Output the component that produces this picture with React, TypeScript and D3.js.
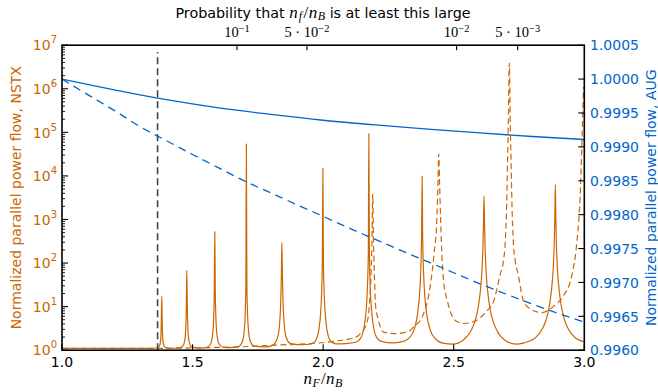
import React from 'react';
import * as d3 from 'd3';

const ORANGE = '#cc6600';
const BLUE = '#0066cc';

const xTickValues = [1.0, 1.5, 2.0, 2.5, 3.0];
const leftDecades = [0, 1, 2, 3, 4, 5, 6, 7];
const rightTickValues = [0.996, 0.9965, 0.997, 0.9975, 0.998, 0.9985, 0.999, 0.9995, 1.0, 1.0005];
const topTickPos = [1.670, 1.938, 2.511, 2.745];
const topTickMantissa = ['', '5', '', '5'];
const topTickExp = ['\u22121', '\u22122', '\u22122', '\u22123'];
const thresholdX = 1.366;
const thresholdSpan = [1, 7e6];

const augSolidX = [1.0, 1.2, 1.4, 1.6, 1.8, 2.0, 2.2, 2.4, 2.6, 2.8, 3.0];
const augSolid = [1.0, 0.999841, 0.999696, 0.999575, 0.999479, 0.999393, 0.999323, 0.999261, 0.999205, 0.999153, 0.999109];
const augDashX = [1.0, 1.1, 1.2, 1.3, 1.4, 1.5, 1.6, 1.7, 1.8, 1.9, 2.0, 2.1, 2.2, 2.3, 2.4, 2.5, 2.6, 2.7, 2.8, 2.9, 3.0];
const augDashed = [1.0, 0.999767, 0.999538, 0.999295, 0.999091, 0.998888, 0.99869, 0.998494, 0.99832, 0.998146, 0.997975, 0.997801, 0.997634, 0.997468, 0.997306, 0.997143, 0.99698, 0.996829, 0.996681, 0.996543, 0.996414];

const nstxSolid: [number, number][] = [
  [1.000, 1.10], [1.300, 1.10], [1.352, 1.11], [1.367, 1.15], [1.374, 1.28], [1.378, 1.8], [1.380, 3.6], [1.382, 17.5], [1.384, 3.6], [1.386, 1.8], [1.390, 1.28], [1.397, 1.15], [1.412, 1.12], [1.430, 1.11],
  [1.448, 1.13], [1.463, 1.25], [1.470, 1.65], [1.474, 3.3], [1.476, 9.2], [1.478, 68], [1.480, 9.2], [1.482, 3.3], [1.486, 1.65], [1.493, 1.25], [1.508, 1.14], [1.531, 1.12],
  [1.555, 1.17], [1.570, 1.45], [1.577, 2.35], [1.581, 6.2], [1.583, 21], [1.585, 520], [1.587, 21], [1.589, 6.2], [1.593, 2.35], [1.600, 1.45], [1.615, 1.18], [1.645, 1.14],
  [1.676, 1.21], [1.691, 1.6], [1.698, 2.9], [1.702, 8.5], [1.704, 31], [1.706, 54000], [1.708, 31], [1.710, 8.5], [1.714, 2.9], [1.721, 1.6], [1.736, 1.24], [1.774, 1.19],
  [1.792, 1.21], [1.812, 1.37], [1.827, 2.12], [1.834, 4.7], [1.838, 15.2], [1.840, 51], [1.842, 300], [1.844, 51], [1.846, 15.2], [1.850, 4.7], [1.857, 2.12], [1.872, 1.45], [1.892, 1.36], [1.920, 1.34],
  [1.949, 1.37], [1.969, 1.6], [1.984, 3.1], [1.991, 8.2], [1.995, 30], [1.997, 116], [1.999, 15000], [2.001, 116], [2.003, 30], [2.007, 8.2], [2.014, 3.1], [2.029, 1.6], [2.049, 1.4], [2.087, 1.42],
  [2.125, 1.52], [2.145, 1.95], [2.160, 4.5], [2.167, 13], [2.171, 49], [2.173, 194], [2.175, 93000], [2.177, 194], [2.179, 49], [2.183, 13], [2.190, 4.5], [2.205, 1.95], [2.225, 1.58], [2.268, 1.48],
  [2.299, 1.55], [2.329, 1.9], [2.349, 3.05], [2.364, 9], [2.371, 28.5], [2.375, 111], [2.377, 427], [2.379, 9800], [2.381, 427], [2.383, 111], [2.387, 28.5], [2.394, 9], [2.409, 3.05], [2.429, 1.85], [2.459, 1.45], [2.497, 1.38],
  [2.536, 1.7], [2.566, 2.8], [2.586, 5.8], [2.601, 20], [2.608, 66], [2.612, 249], [2.614, 822], [2.616, 3450], [2.618, 822], [2.620, 249], [2.624, 66], [2.631, 20], [2.646, 5.8], [2.666, 2.8], [2.696, 1.7], [2.740, 1.38],
  [2.769, 1.47], [2.809, 1.85], [2.839, 3.05], [2.859, 6.5], [2.874, 22.8], [2.881, 76], [2.885, 295], [2.887, 1034], [2.889, 6300], [2.891, 1034], [2.893, 295], [2.897, 76], [2.904, 22.8], [2.919, 6.5], [2.939, 3.05], [2.969, 1.85], [3.000, 1.55],
];

const nstxDashed: [number, number][] = [
  [1.000, 1.10], [1.364, 1.10], [1.529, 1.14], [1.689, 1.2], [1.835, 1.32], [1.950, 1.42], [2.027, 1.55], [2.084, 1.75], [2.129, 2.05], [2.149, 2.7], [2.167, 4.1], [2.177, 11],
  [2.1835, 60], [2.187, 400], [2.1898, 3850], [2.1925, 400], [2.196, 60], [2.2005, 11], [2.212, 4.8], [2.231, 2.6], [2.282, 2.4], [2.333, 2.85], [2.346, 3.4], [2.378, 5.6],
  [2.409, 27], [2.417, 60], [2.4245, 160], [2.435, 930], [2.440, 8000], [2.4425, 32000], [2.4455, 8000], [2.450, 930], [2.4545, 160], [2.461, 40], [2.476, 13.4], [2.506, 4.8],
  [2.538, 4.1], [2.571, 4.4], [2.602, 5.6], [2.627, 8], [2.653, 13.4], [2.678, 55], [2.690, 110], [2.6975, 320], [2.7025, 2000], [2.706, 2e4], [2.709, 1.5e5], [2.7128, 3.9e6],
  [2.7166, 1.5e5], [2.7197, 2e4], [2.7232, 2000], [2.7281, 320], [2.7358, 110], [2.747, 55], [2.767, 13.4], [2.797, 8.6], [2.838, 7.3], [2.862, 8.2], [2.889, 11], [2.921, 18],
  [2.953, 55], [2.972, 324], [2.985, 4600], [2.992, 1e5], [2.997, 1.1e6],
];

const L = 62, R = 584.3, T = 45.2, B = 350.2;

export default function App() {
  const x = d3.scaleLinear().domain([1, 3]).range([L, R]);
  const yL = d3.scaleLog().domain([1, 1e7]).range([B, T]);
  const yR = d3.scaleLinear().domain([0.996, 1.0005]).range([B, T]);
  const lineL = d3.line<[number, number]>().x(d => x(d[0])).y(d => yL(d[1])).curve(d3.curveMonotoneX);
  const lineR = d3.line<[number, number]>().x(d => x(d[0])).y(d => yR(d[1])).curve(d3.curveMonotoneX);
  const augSolidPts = augSolidX.map((v, i) => [v, augSolid[i]] as [number, number]);
  const augDashPts = augDashX.map((v, i) => [v, augDashed[i]] as [number, number]);

  const minor: number[] = [];
  leftDecades.slice(0, -1).forEach(d => {
    for (let k = 2; k <= 9; k++) minor.push(k * Math.pow(10, d));
  });

  const sans = 'DejaVu Sans, sans-serif';
  const serif = 'Liberation Serif, DejaVu Serif, serif';

  return (
    <svg width={658} height={392} style={{ position: 'absolute', left: 0, top: 0, background: '#fff' }}>
      <defs>
        <clipPath id="plotclip">
          <rect x={L} y={T} width={R - L} height={B - T} />
        </clipPath>
      </defs>
      <rect x={0} y={0} width={658} height={392} fill="#fff" />
      <g clipPath="url(#plotclip)" fill="none">
        <path d={lineL(nstxSolid) || ''} stroke={ORANGE} strokeWidth={1.2} />
        <path d={lineL(nstxDashed) || ''} stroke={ORANGE} strokeWidth={1.2} strokeDasharray="6,3.5" />
        <line x1={x(thresholdX)} x2={x(thresholdX)} y1={yL(thresholdSpan[0])} y2={yL(thresholdSpan[1])}
          stroke="#444" strokeWidth={1.6} strokeDasharray="7,4" />
        <path d={lineR(augSolidPts) || ''} stroke={BLUE} strokeWidth={1.3} />
        <path d={lineR(augDashPts) || ''} stroke={BLUE} strokeWidth={1.3} strokeDasharray="8,5.5" />
      </g>

      <rect x={L} y={T} width={R - L} height={B - T} fill="none" stroke="#000" strokeWidth={1.6} />

      {leftDecades.map(d => (
        <line key={'lm' + d} x1={L} x2={L + 6} y1={yL(Math.pow(10, d))} y2={yL(Math.pow(10, d))} stroke="#000" strokeWidth={1.1} />
      ))}
      {minor.map((v, i) => (
        <line key={'ln' + i} x1={L} x2={L + 3} y1={yL(v)} y2={yL(v)} stroke="#000" strokeWidth={0.9} />
      ))}
      {leftDecades.map(d => (
        <text key={'lt' + d} x={57} y={yL(Math.pow(10, d)) + 5.2} textAnchor="end" fill={ORANGE} fontFamily={sans} fontSize={14}>
          10<tspan dy={-7} fontSize={10}>{d}</tspan>
        </text>
      ))}

      {rightTickValues.map((v, i) => (
        <g key={'r' + i}>
          <line x1={R - 6} x2={R} y1={yR(v)} y2={yR(v)} stroke="#000" strokeWidth={1.1} />
          <text x={590} y={yR(v) + 5.2} fill={BLUE} fontFamily={sans} fontSize={14}>{v.toFixed(4)}</text>
        </g>
      ))}

      {xTickValues.map((v, i) => (
        <g key={'b' + i}>
          <line x1={x(v)} x2={x(v)} y1={B} y2={B - 6} stroke="#000" strokeWidth={1.1} />
          <text x={x(v)} y={367} textAnchor="middle" fontFamily={sans} fontSize={14}>{v.toFixed(1)}</text>
        </g>
      ))}

      {topTickPos.map((p, i) => (
        <g key={'t' + i}>
          <line x1={x(p)} x2={x(p)} y1={T} y2={T + 5} stroke="#000" strokeWidth={1.1} />
          <text x={x(p)} y={37} textAnchor="middle" fontFamily={serif} fontSize={14.5}>
            {topTickMantissa[i] ? topTickMantissa[i] + ' \u00b7 10' : '10'}
            <tspan dy={-5} fontSize={10.5}>{topTickExp[i]}</tspan>
          </text>
        </g>
      ))}

      <text x={323} y={17.5} textAnchor="middle" fontFamily={sans} fontSize={14.3}>
        {'Probability that '}
        <tspan fontFamily={serif} fontStyle="italic" fontSize={17}>n</tspan>
        <tspan fontFamily={serif} fontStyle="italic" fontSize={12} dy={2} dx={1}>f</tspan>
        <tspan fontFamily={serif} fontSize={17} dy={-2} dx={1.5}>/</tspan>
        <tspan fontFamily={serif} fontStyle="italic" fontSize={17} dx={0.5}>n</tspan>
        <tspan fontFamily={serif} fontStyle="italic" fontSize={12} dy={2} dx={0.5}>B</tspan>
        <tspan dy={-2}>{' is at least this large'}</tspan>
      </text>

      <text x={323} y={384} textAnchor="middle" fontFamily={serif} fontSize={17}>
        <tspan fontStyle="italic">n</tspan>
        <tspan fontStyle="italic" fontSize={12} dy={3} dx={0.5}>F</tspan>
        <tspan dy={-3} dx={1}>/</tspan>
        <tspan fontStyle="italic" dx={0.5}>n</tspan>
        <tspan fontStyle="italic" fontSize={12} dy={3} dx={0.5}>B</tspan>
      </text>

      <text transform={`translate(20.5,${(T + B) / 2}) rotate(-90)`} textAnchor="middle" fill={ORANGE} fontFamily={sans} fontSize={14}>
        Normalized parallel power flow, NSTX
      </text>
      <text transform={`translate(655.5,${(T + B) / 2}) rotate(-90)`} textAnchor="middle" fill={BLUE} fontFamily={sans} fontSize={14}>
        Normalized parallel power flow, AUG
      </text>
    </svg>
  );
}
